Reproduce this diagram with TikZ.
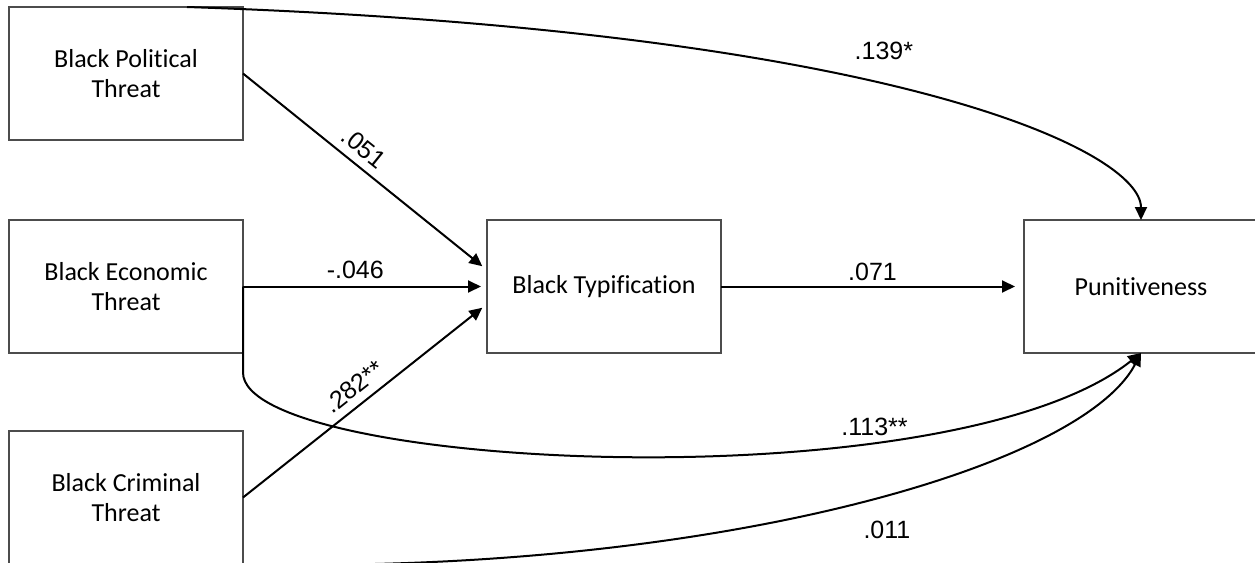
\documentclass[tikz,border=0pt]{standalone}
\usepackage{fontspec}
\setmainfont{Carlito}[Ligatures=NoCommon]
\newfontfamily\coeffont{Liberation Sans}
\usetikzlibrary{arrows.meta,positioning}

\begin{document}
\begin{tikzpicture}[node distance=40pt,>={Triangle[length=6.5pt,width=6pt]}]

  	\tikzstyle{var}=[rectangle,draw=black!70,line width=0.75pt,minimum width=117pt,minimum height=66.5pt,inner sep=0pt,outer sep=0pt,align=center,font=\fontsize{13}{15}\selectfont]
  	\tikzstyle{effect}=[->,draw=black,line width=1pt]
  	\tikzstyle{coef}=[font=\coeffont\fontsize{12.5}{14}\selectfont,inner sep=2pt]

	\clip (-63pt,-138.25pt) rectangle (564.5pt,143.25pt);

		\node [var] (econ) {Black Economic\\Threat};
		\node [var] (pol) [above=of econ] {Black Political\\Threat};
		\node [var] (crim) [below=39pt of econ] {Black Criminal\\Threat};
		\node [var] (typ) [right=122pt of econ] {Black Typification};
		\node [var] (pun) [right=151.5pt of typ] {Punitiveness};

		% paths to typification
		\draw [effect,shorten >=3pt] (pol.east) -- node [coef,sloped,above=2pt,pos=.45] {.051} ([yshift=8.25pt]typ.west);
		\draw [effect,shorten >=3pt] (econ.east) -- node [coef,above=1.5pt,pos=.46] {-.046} (typ.west);
		\draw [effect,shorten >=3pt] (crim.east) -- node [coef,sloped,above=2pt,pos=.5] {.282**} ([yshift=-8.75pt]typ.west);
		\draw [effect,shorten >=4.5pt] (typ.east) -- node [coef,above=0.5pt,pos=.5] {.071} (pun.west);

		% direct paths
		\draw [effect] ([xshift=-28pt]pol.north east) .. controls +(356.5pt,-12pt) and +(0pt,34pt) .. (pun.north)
			node [coef,above=10pt,pos=.45] {.139*};
		\draw [effect] (econ.east) -- ++(0,-43pt) .. controls +(0,-48.5pt) and +(-95.5pt,-76pt) .. (pun.south)
			node [coef,above=0pt,pos=.71] {.113**};
		\draw [effect] (crim.south east) .. controls +(228.5pt,-5.5pt) and +(-30.5pt,-58.5pt) .. (pun.south)
			node [coef,below=11pt,pos=.55] {.011};

\end{tikzpicture}
\end{document}
